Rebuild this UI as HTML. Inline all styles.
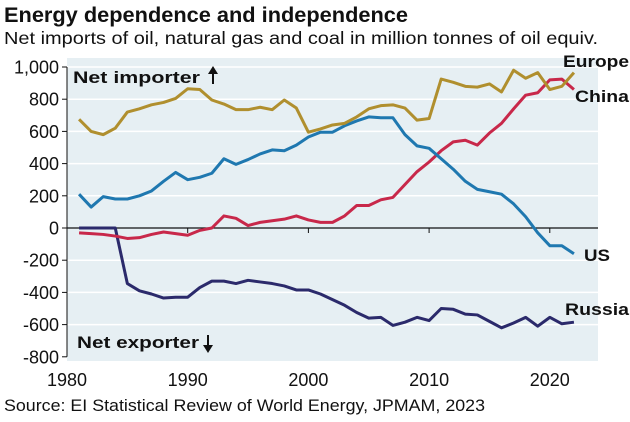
<!DOCTYPE html>
<html><head><meta charset="utf-8"><style>
body{margin:0;background:#fff;font-family:"Liberation Sans",Arial,sans-serif;}
svg text{font-family:"Liberation Sans",Arial,sans-serif;}
</style></head><body>
<svg width="630" height="417" viewBox="0 0 630 417">
<text x="4" y="22" font-size="21" font-weight="bold" fill="#111" textLength="404" lengthAdjust="spacingAndGlyphs">Energy dependence and independence</text>
<text x="4" y="44" font-size="17.5" fill="#111" textLength="594" lengthAdjust="spacingAndGlyphs">Net imports of oil, natural gas and coal in million tonnes of oil equiv.</text>
<rect x="67" y="58" width="531" height="303" fill="#e6eff3"/>
<g id="grid"></g><g id="axes"></g><g id="lines"></g>
<text x="73" y="83" font-size="17" font-weight="bold" fill="#111" textLength="127" lengthAdjust="spacingAndGlyphs">Net importer</text>
<g><line x1="213" y1="84" x2="213" y2="72" stroke="#111" stroke-width="2"/><polygon points="208,74 218,74 213,66" fill="#111"/></g>
<text x="77" y="348" font-size="17" font-weight="bold" fill="#111" textLength="122" lengthAdjust="spacingAndGlyphs">Net exporter</text>
<g><line x1="208" y1="335" x2="208" y2="347" stroke="#111" stroke-width="2"/><polygon points="203,345 213,345 208,353" fill="#111"/></g>
<text x="563" y="67" font-size="17" font-weight="bold" fill="#111" textLength="66" lengthAdjust="spacingAndGlyphs">Europe</text>
<text x="575" y="102" font-size="17" font-weight="bold" fill="#111" textLength="54" lengthAdjust="spacingAndGlyphs">China</text>
<text x="584" y="261" font-size="17" font-weight="bold" fill="#111" textLength="26" lengthAdjust="spacingAndGlyphs">US</text>
<text x="565" y="315" font-size="17" font-weight="bold" fill="#111" textLength="64" lengthAdjust="spacingAndGlyphs">Russia</text>
<text x="4" y="411" font-size="17" fill="#111" textLength="481" lengthAdjust="spacingAndGlyphs">Source: EI Statistical Review of World Energy, JPMAM, 2023</text>
</svg>
<script>
const years=[1981,1982,1983,1984,1985,1986,1987,1988,1989,1990,1991,1992,1993,1994,1995,1996,1997,1998,1999,2000,2001,2002,2003,2004,2005,2006,2007,2008,2009,2010,2011,2012,2013,2014,2015,2016,2017,2018,2019,2020,2021,2022];
const europe=[675,600,580,620,720,740,765,780,805,865,860,795,770,735,735,750,735,795,745,595,615,640,650,690,740,760,765,745,670,680,925,905,880,875,895,845,980,930,965,860,880,965];
const us=[210,130,195,180,180,200,230,290,345,300,315,340,430,395,425,460,485,480,515,565,595,595,635,665,690,685,685,580,510,495,430,365,290,240,225,210,150,70,-30,-110,-110,-160];
const china=[-30,-35,-40,-50,-65,-60,-40,-25,-35,-45,-15,0,75,60,15,35,45,55,75,50,35,35,75,140,140,175,190,270,350,410,480,535,545,515,590,650,740,825,840,920,925,860];
const russia=[0,0,0,0,-345,-390,-410,-435,-430,-430,-370,-330,-330,-345,-325,-335,-345,-360,-385,-385,-410,-445,-480,-525,-560,-555,-605,-585,-555,-575,-500,-505,-535,-540,-580,-620,-590,-555,-610,-555,-595,-585];
const yTicks=[1000,800,600,400,200,0,-200,-400,-600,-800];
const yTickLabels=["1,000","800","600","400","200","0","-200","-400","-600","-800"];
const xTicks=[1980,1990,2000,2010,2020];
const NS="http://www.w3.org/2000/svg";
function X(y){return 67+(y-1980)*12.07;}
function Y(v){return 228-v*0.161;}
function mk(tag,attrs,parent){const e=document.createElementNS(NS,tag);for(const k in attrs)e.setAttribute(k,attrs[k]);document.getElementById(parent).appendChild(e);return e;}
yTicks.forEach((t,i)=>{
  if(t!==0&&t!==-800){const g=mk('line',{x1:67,x2:598,y1:Y(t),y2:Y(t),stroke:'#fff','stroke-width':1.5},'grid');
  
  }
  const tk=mk('line',{x1:62,x2:67,y1:Y(t),y2:Y(t),stroke:'#111','stroke-width':1},'axes');
  
  
  const l=mk('text',{x:59,y:Y(t)+6.5,'font-size':18,'text-anchor':'end',fill:'#111'},'axes');
  l.textContent=yTickLabels[i];
  
  
});
const ya=mk('line',{x1:67,x2:67,y1:Y(1000),y2:Y(-800),stroke:'#111','stroke-width':1},'axes');


const za=mk('line',{x1:67,x2:598,y1:Y(0),y2:Y(0),stroke:'#111','stroke-width':1.2},'axes');


xTicks.forEach(t=>{
  const tk=mk('line',{x1:X(t),x2:X(t),y1:Y(0),y2:Y(0)+5,stroke:'#111','stroke-width':1},'axes');
  
  
  const l=mk('text',{x:X(t),y:386,'font-size':18,'text-anchor':'middle',fill:'#111'},'axes');
  l.textContent=String(t);
  
  
});
function line(data,color,name){
  const p=mk('polyline',{points:data.map((v,i)=>X(years[i])+','+Y(v)).join(' '),fill:'none',stroke:color,'stroke-width':3,'stroke-linejoin':'round'},'lines');
  
  
}
line(russia,'#2b2a6b','russia-line');
line(china,'#c8284a','china-line');
line(us,'#1f78b0','us-line');
line(europe,'#b08f2e','europe-line');
</script>
</body></html>
